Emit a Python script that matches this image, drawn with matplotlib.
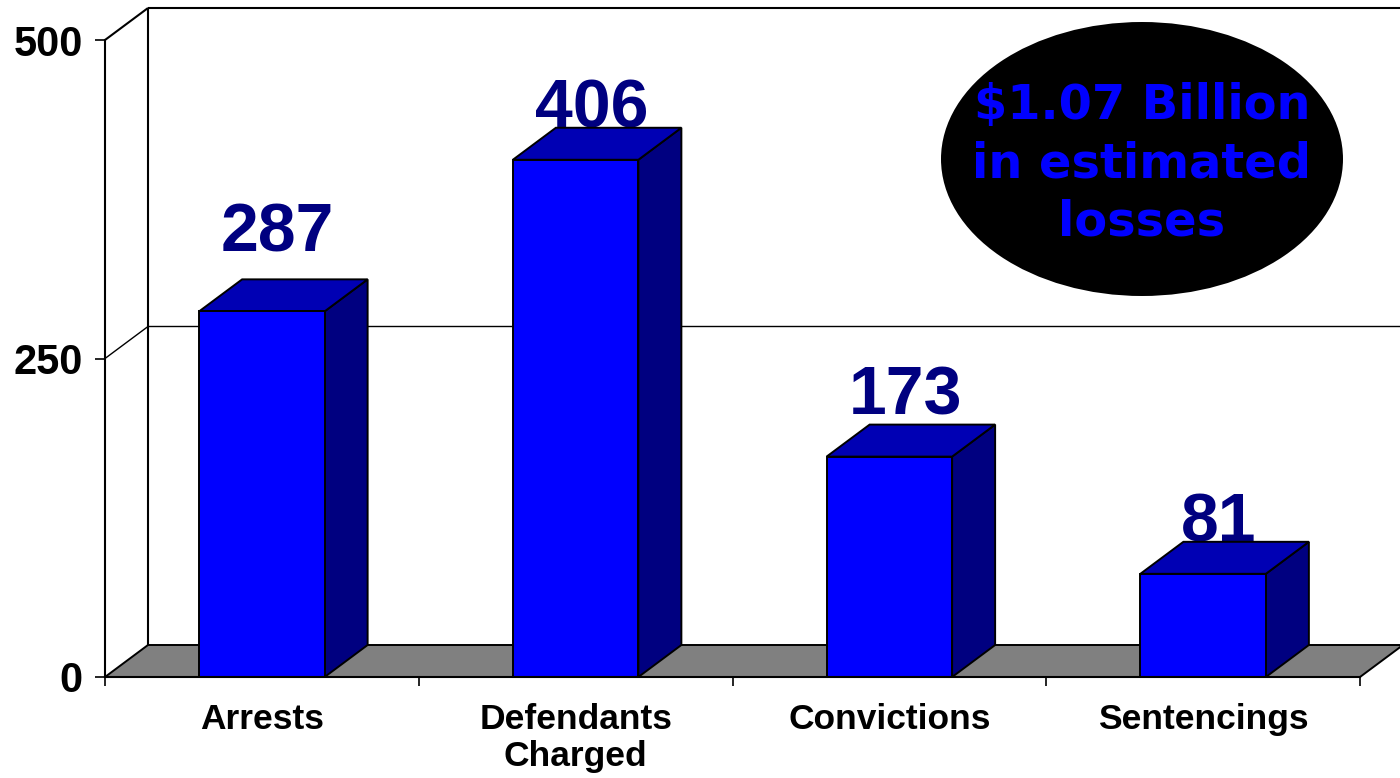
import matplotlib
matplotlib.use("Agg")
import matplotlib.pyplot as plt
from matplotlib.patches import Polygon, Ellipse
import numpy as np

# ---------------- data ----------------
categories = ["Arrests", "Defendants\nCharged", "Convictions", "Sentencings"]
values = [287, 406, 173, 81]
yticks = [0, 250, 500]
callout_text = "$1.07 Billion\nin estimated\nlosses"

# ---------------- style ----------------
label_pad_px = [28, 0, 10, 0]     # extra lift of value labels above bar top (px)
front_col = "#0000FF"
top_col = "#0000B4"
side_col = "#000080"
floor_col = "#808080"
label_col = "#000080"
FONT = "Liberation Sans"

W, H = 1400, 778
fig = plt.figure(figsize=(W / 100, H / 100), dpi=100)
L, R, B, T = 105, 1360, 677, 40     # front plane in pixels
ax = fig.add_axes([L / W, 1 - B / H, (R - L) / W, (B - T) / H])
n = len(categories)
ymax = max(yticks)
ax.set_xlim(0, n)
ax.set_ylim(0, ymax)

px_x = n / (R - L)          # data units per pixel (x)
px_y = ymax / (B - T)       # data units per pixel (y)
DX = 43 * px_x
DY = 32 * px_y

# back wall
wall_kw = dict(color="black", lw=1.5, clip_on=False, zorder=1, solid_capstyle="butt")
ax.plot([0, DX], [ymax, ymax + DY], **wall_kw)
ax.plot([DX, DX], [DY, ymax + DY], **wall_kw)
ax.plot([DX, n + DX], [ymax + DY, ymax + DY], **wall_kw)
for yt in yticks[1:-1]:
    ax.plot([0, DX, n + DX], [yt, yt + DY, yt + DY], color="black", lw=1.0,
            clip_on=False, zorder=1)

# floor
floor = Polygon([(0, 0), (n, 0), (n + DX, DY), (DX, DY)], closed=True,
                facecolor=floor_col, edgecolor="black", lw=1.4, clip_on=False, zorder=2)
ax.add_patch(floor)

# bars
centers = np.arange(n) + 0.5
width = 0.4
for i, (c, v) in enumerate(zip(centers, values)):
    x0, x1 = c - width / 2, c + width / 2
    # value label (drawn beneath bar so the bar can overlap it)
    ax.text(c + 0.05, v + DY + label_pad_px[i] * px_y, str(v), ha="center", va="baseline",
            fontsize=49, fontweight="bold", family=FONT, color=label_col, zorder=3,
            clip_on=False)
    side = Polygon([(x1, 0), (x1 + DX, DY), (x1 + DX, v + DY), (x1, v)], closed=True,
                   facecolor=side_col, edgecolor="black", lw=1.4, zorder=4, clip_on=False)
    top = Polygon([(x0, v), (x1, v), (x1 + DX, v + DY), (x0 + DX, v + DY)], closed=True,
                  facecolor=top_col, edgecolor="black", lw=1.4, zorder=4, clip_on=False)
    ax.add_patch(side)
    ax.add_patch(top)
ax.bar(centers, values, width=width, color=front_col, edgecolor="black", lw=1.4,
       zorder=5, clip_on=False)

# axes and ticks
for s in ["top", "right"]:
    ax.spines[s].set_visible(False)
ax.spines["left"].set_linewidth(1.5)
ax.spines["bottom"].set_linewidth(1.5)
ax.spines["left"].set_zorder(6)
ax.spines["bottom"].set_zorder(6)
ax.set_yticks(yticks)
ax.set_yticklabels([str(t) for t in yticks], fontsize=30, fontweight="bold", family=FONT)
ax.tick_params(axis="y", direction="out", length=7, width=1.2, pad=9)
ax.set_xticks(np.arange(n + 1))
ax.set_xticklabels([""] * (n + 1))
ax.tick_params(axis="x", which="major", direction="out", length=6.5, width=1.2)
ax.set_xticks(centers, minor=True)
ax.set_xticklabels(categories, minor=True, fontsize=25.5, fontweight="bold", family=FONT,
                   linespacing=1.12)
ax.tick_params(axis="x", which="minor", length=0, pad=19)
ax.set_facecolor("none")

# callout ellipse
ell = Ellipse(((1142 - L) / (R - L), (B - 159) / (B - T)), 402 / (R - L), 274 / (B - T),
              transform=ax.transAxes, facecolor="black", edgecolor="none", zorder=7,
              clip_on=False)
ax.add_patch(ell)
ax.text((1142 - L) / (R - L), (B - 164) / (B - T), callout_text, transform=ax.transAxes,
        ha="center", va="center", multialignment="center", fontsize=34.5,
        fontweight="bold", family="DejaVu Sans", color="#0000FF", linespacing=1.3,
        zorder=8)

fig.savefig("out.png", dpi=100)
